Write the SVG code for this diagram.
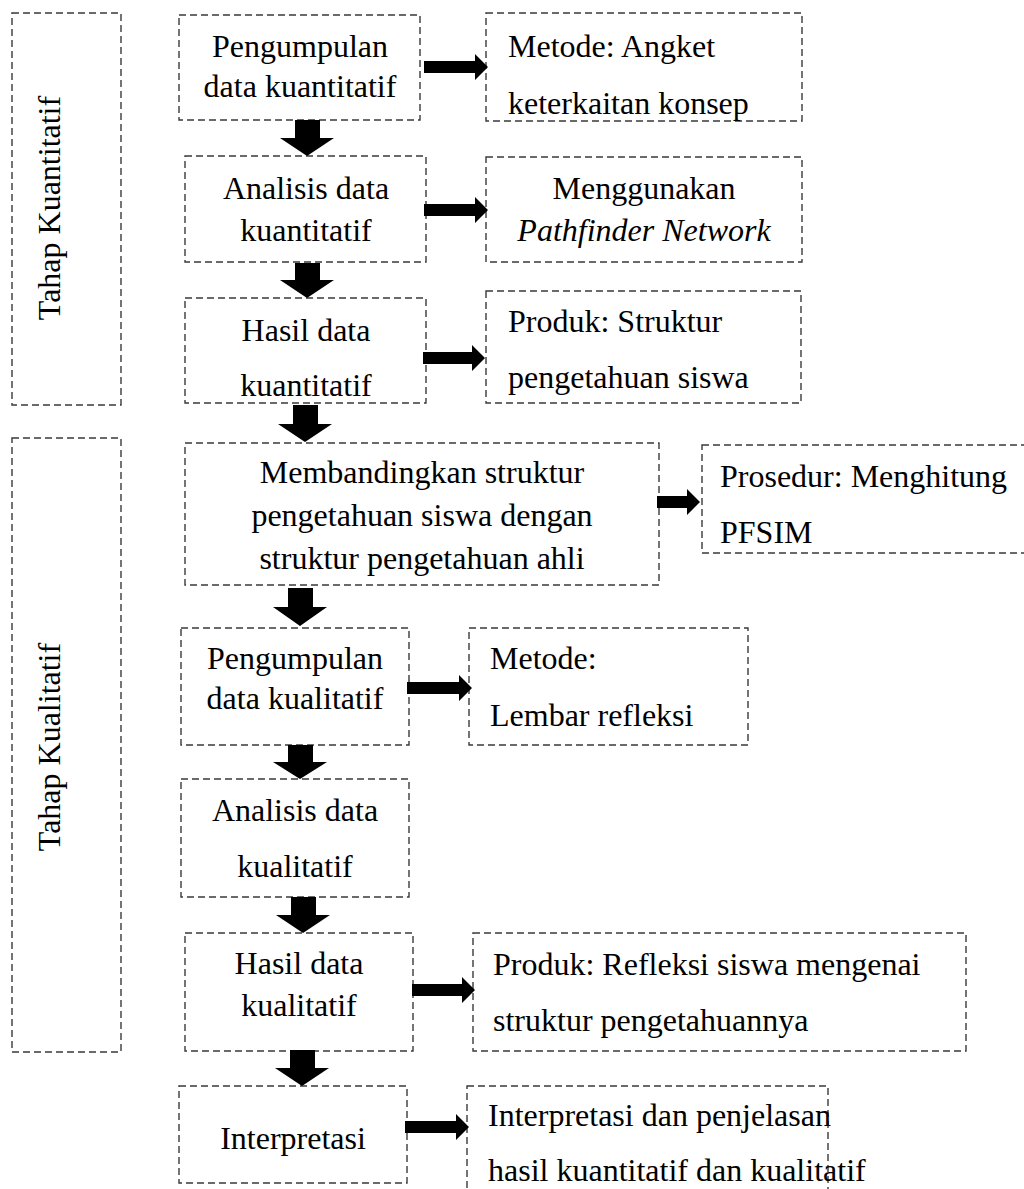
<svg xmlns="http://www.w3.org/2000/svg" width="1024" height="1189" viewBox="0 0 1024 1189">
<style>
.box{fill:none;stroke:#3a3a3a;stroke-width:1.4;stroke-dasharray:7,4}
.t{font-family:"Liberation Serif","Times New Roman",serif;font-size:32px;fill:#000}
.c{text-anchor:middle}
.i{font-style:italic}
.arr{fill:#000}
</style>
<rect width="1024" height="1189" fill="#fff"/>
<g id="stage-kuantitatif">
<rect class="box" x="12" y="13" width="109" height="392"/>
<text class="t c" transform="translate(60,208) rotate(-90)">Tahap Kuantitatif</text>
</g>
<g id="stage-kualitatif">
<rect class="box" x="12" y="438" width="109" height="614"/>
<text class="t c" transform="translate(60,747) rotate(-90)">Tahap Kualitatif</text>
</g>
<g id="n1">
<rect class="box" x="179" y="15" width="241" height="105"/>
<text class="t c" x="300" y="57">Pengumpulan</text>
<text class="t c" x="300" y="97">data kuantitatif</text>
</g>
<g id="r1">
<rect class="box" x="486" y="13" width="316" height="108"/>
<text class="t" x="508" y="57">Metode: Angket</text>
<text class="t" x="508" y="114">keterkaitan konsep</text>
</g>
<g id="n2">
<rect class="box" x="185" y="156" width="241" height="106"/>
<text class="t c" x="306" y="199">Analisis data</text>
<text class="t c" x="306" y="241">kuantitatif</text>
</g>
<g id="r2">
<rect class="box" x="486" y="157" width="316" height="105"/>
<text class="t c" x="644" y="199">Menggunakan</text>
<text class="t c i" x="644" y="241">Pathfinder Network</text>
</g>
<g id="n3">
<rect class="box" x="185" y="298" width="241" height="105"/>
<text class="t c" x="306" y="341">Hasil data</text>
<text class="t c" x="306" y="396">kuantitatif</text>
</g>
<g id="r3">
<rect class="box" x="486" y="291" width="315" height="112"/>
<text class="t" x="508" y="332">Produk: Struktur</text>
<text class="t" x="508" y="388">pengetahuan siswa</text>
</g>
<g id="n4">
<rect class="box" x="185" y="443" width="474" height="142"/>
<text class="t c" x="422" y="483">Membandingkan struktur</text>
<text class="t c" x="422" y="526">pengetahuan siswa dengan</text>
<text class="t c" x="422" y="569">struktur pengetahuan ahli</text>
</g>
<g id="r4">
<rect class="box" x="702" y="445" width="340" height="108"/>
<text class="t" x="720" y="487">Prosedur: Menghitung</text>
<text class="t" x="720" y="543">PFSIM</text>
</g>
<g id="n5">
<rect class="box" x="181" y="628" width="228" height="117"/>
<text class="t c" x="295" y="669">Pengumpulan</text>
<text class="t c" x="295" y="709">data kualitatif</text>
</g>
<g id="r5">
<rect class="box" x="469" y="628" width="279" height="117"/>
<text class="t" x="490" y="669">Metode:</text>
<text class="t" x="490" y="726">Lembar refleksi</text>
</g>
<g id="n6">
<rect class="box" x="181" y="779" width="228" height="118"/>
<text class="t c" x="295" y="821">Analisis data</text>
<text class="t c" x="295" y="877">kualitatif</text>
</g>
<g id="n7">
<rect class="box" x="185" y="933" width="228" height="118"/>
<text class="t c" x="299" y="974">Hasil data</text>
<text class="t c" x="299" y="1016">kualitatif</text>
</g>
<g id="r7">
<rect class="box" x="473" y="933" width="493" height="118"/>
<text class="t" x="493" y="975">Produk: Refleksi siswa mengenai</text>
<text class="t" x="493" y="1031">struktur pengetahuannya</text>
</g>
<g id="n8">
<rect class="box" x="179" y="1086" width="228" height="97"/>
<text class="t c" x="293" y="1149">Interpretasi</text>
</g>
<g id="r8">
<rect class="box" x="467" y="1086" width="361" height="130"/>
<text class="t" x="488" y="1126">Interpretasi dan penjelasan</text>
<text class="t" x="488" y="1181">hasil kuantitatif dan kualitatif</text>
</g>
<g id="connectors">
<polygon class="arr" points="295,120 320,120 320,138 334,138 307,156 280,138 295,138"/>
<polygon class="arr" points="295,263 320,263 320,280 334,280 307,298 280,280 295,280"/>
<polygon class="arr" points="293,405 318,405 318,424 332,424 305,442 278,424 293,424"/>
<polygon class="arr" points="288,588 313,588 313,607 327,607 300,626 273,607 288,607"/>
<polygon class="arr" points="288,745 313,745 313,762 327,762 300,779 273,762 288,762"/>
<polygon class="arr" points="291,897 316,897 316,915 330,915 303,933 276,915 291,915"/>
<polygon class="arr" points="290,1050 315,1050 315,1068 329,1068 302,1086 275,1068 290,1068"/>
<polygon class="arr" points="424,61 475,61 475,54 488,67 475,80 475,73 424,73"/>
<polygon class="arr" points="424,204 475,204 475,197 488,210 475,223 475,216 424,216"/>
<polygon class="arr" points="423,352 472,352 472,345 485,358 472,371 472,364 423,364"/>
<polygon class="arr" points="657,496 687,496 687,489 700,502 687,515 687,508 657,508"/>
<polygon class="arr" points="407,682 459,682 459,675 472,688 459,701 459,694 407,694"/>
<polygon class="arr" points="412,984 462,984 462,977 475,990 462,1003 462,996 412,996"/>
<polygon class="arr" points="405,1121 456,1121 456,1114 469,1127 456,1140 456,1133 405,1133"/>
</g>
</svg>
